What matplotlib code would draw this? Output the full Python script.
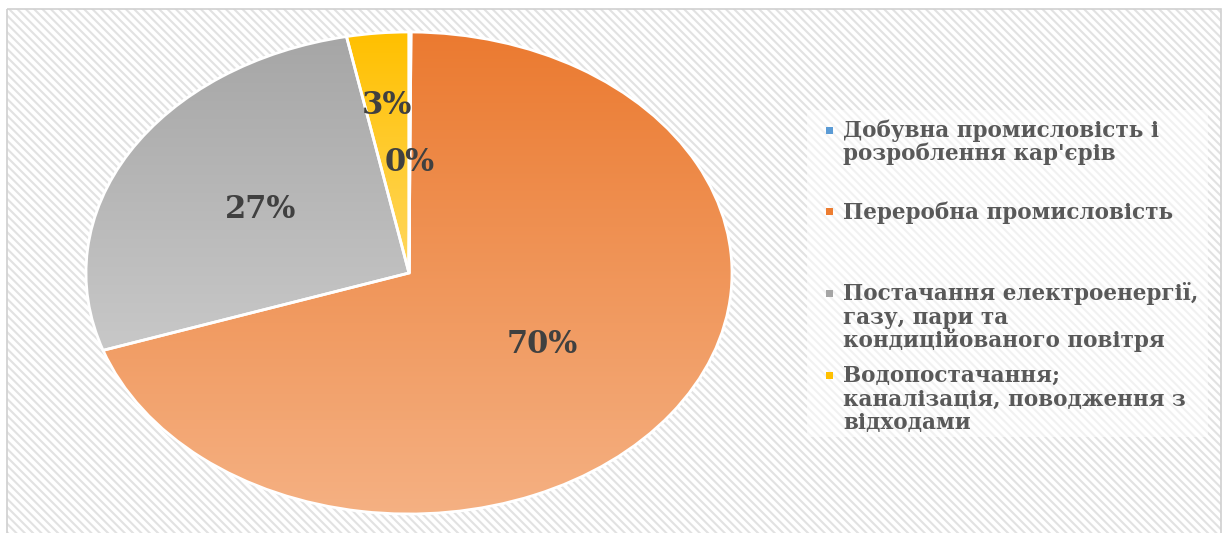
import numpy as np
import matplotlib
matplotlib.use("Agg")
import matplotlib.pyplot as plt
from matplotlib.patches import Rectangle
from matplotlib.colors import to_rgb

# Structure of industrial output by activity (per cent)
categories = [
    "Добувна промисловість і\nрозроблення кар'єрів",
    "Переробна промисловість",
    "Постачання електроенергії,\nгазу, пари та\nкондиційованого повітря",
    "Водопостачання;\nканалізація, поводження з\nвідходами",
]
shares = [0.1, 69.7, 27.1, 3.1]

# gradient fill: colour at the top and at the bottom of each slice
top_colors = ["#5B9BD5", "#EB7A30", "#A6A6A6", "#FFC000"]
bottom_colors = ["#9DC3E6", "#F5B183", "#C8C8C8", "#FFD75E"]
marker_colors = ["#5B9BD5", "#ED7D31", "#A5A5A5", "#FFC000"]
label_radius = [0.46, 0.51, 0.53, 0.70]

plt.rcParams["hatch.linewidth"] = 1.5

W, H = 1225, 533
fig = plt.figure(figsize=(W / 100, H / 100), dpi=100)
fig.patch.set_facecolor("white")

# pixel-space canvas for the chart area, border and legend
bg = fig.add_axes([0, 0, 1, 1])
bg.set_xlim(0, W)
bg.set_ylim(H, 0)
bg.axis("off")
bg.add_patch(Rectangle((7, 9), 1214, 530, facecolor="white",
                       edgecolor="#e2e2e2", hatch="\\\\\\\\", linewidth=0))
bg.add_patch(Rectangle((7, 9), 1214, 530, facecolor="none",
                       edgecolor="#d0d0d0", linewidth=1.2))

# pie (elliptical, as the plot area is wider than tall)
cx, cy, rx, ry = 409, 273, 323, 241
ax = fig.add_axes([(cx - rx) / W, (H - cy - ry) / H, 2 * rx / W, 2 * ry / H])
wedges, _ = ax.pie(shares, startangle=90, counterclock=False, radius=1,
                   wedgeprops=dict(edgecolor="white", linewidth=2, clip_on=False))

for w, c0, c1 in zip(wedges, top_colors, bottom_colors):
    verts = w.get_path().vertices
    ymin, ymax = verts[:, 1].min(), verts[:, 1].max()
    g = np.linspace(0, 1, 256)[:, None]
    rgb = (1 - g) * np.array(to_rgb(c0)) + g * np.array(to_rgb(c1))
    im = ax.imshow(rgb[:, None, :], extent=(-1, 1, ymin, ymax), origin="upper",
                   aspect="auto", interpolation="bilinear", zorder=1)
    im.set_clip_path(w)
    w.set_facecolor("none")
    w.set_zorder(2)

for w, share, r in zip(wedges, shares, label_radius):
    th = np.deg2rad((w.theta1 + w.theta2) / 2)
    ax.text(r * np.cos(th), r * np.sin(th), f"{share:.0f}%", ha="center",
            va="center", fontsize=22, fontweight="bold", family="DejaVu Serif",
            color="#404040", zorder=3)

ax.set_aspect("auto")
ax.set_xlim(-1, 1)
ax.set_ylim(-1, 1)
ax.axis("off")

# legend
bg.add_patch(Rectangle((807, 110), 401, 327, facecolor="white", alpha=0.55,
                       edgecolor="none", zorder=2))
first_baseline, entry_step, line_step = 137, 81.7, 23.3
for i, (label, mc) in enumerate(zip(categories, marker_colors)):
    base = first_baseline + i * entry_step
    bg.add_patch(Rectangle((826, base - 10.5), 7, 7, facecolor=mc,
                           edgecolor="none", zorder=3))
    for j, line in enumerate(label.split("\n")):
        bg.text(843, base + j * line_step, line, ha="left", va="baseline",
                fontsize=15.5, fontweight="bold", family="DejaVu Serif",
                color="#595959", zorder=3)

fig.savefig("out.png", dpi=100)
